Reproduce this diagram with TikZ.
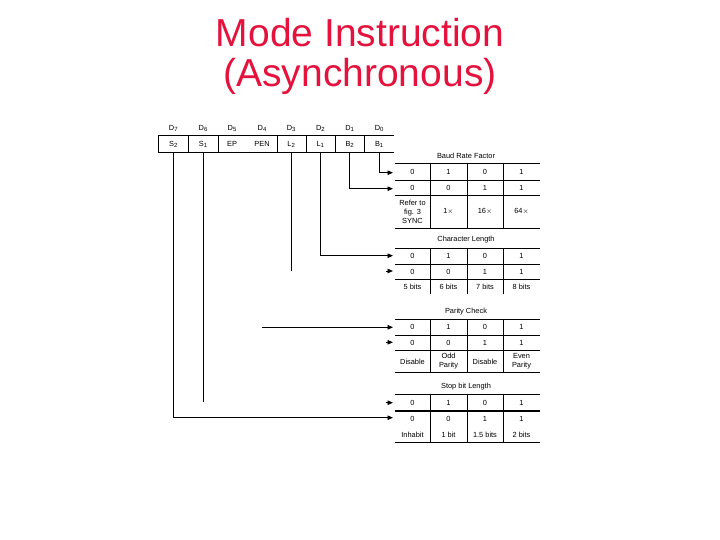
\documentclass[tikz,border=0pt]{standalone}
\usepackage{fontspec}
\setmainfont{Liberation Sans}
\usetikzlibrary{arrows.meta}
\definecolor{titlered}{RGB}{228,18,60}
\newcommand{\mysub}[1]{\raisebox{-0.25ex}{\fontsize{6bp}{6bp}\selectfont #1}}
\begin{document}
\begin{tikzpicture}[x=1bp,y=-1bp,
  ttl/.style={font=\fontsize{39bp}{40bp}\selectfont, text=titlered, inner sep=0pt, anchor=base},
  small/.style={font=\fontsize{7.4bp}{9bp}\selectfont, inner sep=0pt, align=center},
  regcell/.style={small, minimum height=16bp, inner sep=0pt},
  gridline/.style={line width=0.8bp},
  thickline/.style={line width=1.7bp},
  wire/.style={line width=0.9bp},
  conn/.style={line width=0.9bp, -{Triangle[length=5.5bp,width=4.5bp]}}]
\useasboundingbox (0,0) rectangle (720,540);

% Title
\node[ttl] (title1) at (360,47) {Mode Instruction};
\node[ttl] (title2) at (360,87) {(Asynchronous)};

% Register: bit labels
\foreach \n/\x/\s in {d7/173.3/7, d6/203/6, d5/232/5, d4/262/4, d3/291.2/3, d2/320.35/2, d1/349.65/1, d0/379.15/0}
  \node[small] (\n) at (\x,128) {D\mysub{\s}};

% Register cells
\node[regcell, minimum width=30bp]   (s2) at (173.3,144) {S\mysub{2}};
\node[regcell, minimum width=29.4bp] (s1) at (203,144) {S\mysub{1}};
\node[regcell, minimum width=59bp]   (eppen) at (247.2,144) {};
\node[small] (ep) at (232,144) {EP};
\node[small] (pen) at (262,144) {PEN};
\node[regcell, minimum width=29bp]   (l2) at (291.2,144) {L\mysub{2}};
\node[regcell, minimum width=29.3bp] (l1) at (320.35,144) {L\mysub{1}};
\node[regcell, minimum width=29.3bp] (b2) at (349.65,144) {B\mysub{2}};
\node[regcell, minimum width=29.7bp] (b1) at (379.15,144) {B\mysub{1}};
\draw[gridline] (b1.north east) -- (s2.north west) -- (s2.south west) -- (b1.south east);
\foreach \c in {s2,s1,eppen,l2,l1,b2}
  \draw[gridline] (\c.north east) -- (\c.south east);

% ---------- Tables ----------
% Baud Rate Factor
\node[small] (baudT) at (466,156) {Baud Rate Factor};
\foreach \y in {163,180,195,228} \draw[gridline] (395,\y) -- (540,\y);
\foreach \x in {430,467,503} \draw[gridline] (\x,163) -- (\x,228);
\foreach \t/\x [count=\i] in {0/412.5,1/448.5,0/485,1/521.5}
  \node[small] (baudA\i) at (\x,172) {\t};
\foreach \t/\x [count=\i] in {0/412.5,0/448.5,1/485,1/521.5}
  \node[small] (baudB\i) at (\x,187.5) {\t};
\node[small] (baudC1) at (412.5,211.5) {Refer to\\fig. 3\\SYNC};
\node[small] (baudC2) at (448.5,211.5) {1$\times$};
\node[small] (baudC3) at (485,211.5) {16$\times$};
\node[small] (baudC4) at (521.5,211.5) {64$\times$};

% Character Length
\node[small] (charT) at (466,240) {Character Length};
\foreach \y in {248,264,279} \draw[gridline] (395,\y) -- (540,\y);
\foreach \x in {430,467,503} \draw[gridline] (\x,248) -- (\x,294);
\foreach \t/\x [count=\i] in {0/412.5,1/448.5,0/485,1/521.5}
  \node[small] (charA\i) at (\x,256) {\t};
\foreach \t/\x [count=\i] in {0/412.5,0/448.5,1/485,1/521.5}
  \node[small] (charB\i) at (\x,271.5) {\t};
\foreach \t/\x [count=\i] in {5 bits/412.5,6 bits/448.5,7 bits/485,8 bits/521.5}
  \node[small] (charC\i) at (\x,287) {\t};

% Parity Check
\node[small] (parT) at (466,312) {Parity Check};
\foreach \y in {319,335,350,372} \draw[gridline] (395,\y) -- (540,\y);
\foreach \x in {430,467,503} \draw[gridline] (\x,319) -- (\x,372);
\foreach \t/\x [count=\i] in {0/412.5,1/448.5,0/485,1/521.5}
  \node[small] (parA\i) at (\x,327) {\t};
\foreach \t/\x [count=\i] in {0/412.5,0/448.5,1/485,1/521.5}
  \node[small] (parB\i) at (\x,342.5) {\t};
\node[small] (parC1) at (412.5,361.5) {Disable};
\node[small] (parC2) at (448.5,361.5) {Odd\\Parity};
\node[small] (parC3) at (485,361.5) {Disable};
\node[small] (parC4) at (521.5,361.5) {Even\\Parity};

% Stop bit Length
\node[small] (stopT) at (466,387) {Stop bit Length};
\foreach \y in {394,442} \draw[gridline] (395,\y) -- (540,\y);
\draw[thickline] (395,411) -- (540,411);
\foreach \x in {430,467,503} \draw[gridline] (\x,394) -- (\x,442);
\foreach \t/\x [count=\i] in {0/412.5,1/448.5,0/485,1/521.5}
  \node[small] (stopA\i) at (\x,403) {\t};
\foreach \t/\x [count=\i] in {0/412.5,0/448.5,1/485,1/521.5}
  \node[small] (stopB\i) at (\x,419) {\t};
\foreach \t/\x [count=\i] in {Inhabit/412.5,1 bit/448.5,1.5 bits/485,2 bits/521.5}
  \node[small] (stopC\i) at (\x,435) {\t};

% ---------- Connectors ----------
\coordinate (baudIn1) at (393,172.7);
\coordinate (baudIn2) at (393,188.7);
\coordinate (charIn1) at (393,255.7);
\coordinate (charIn2) at (393,271);
\coordinate (charStub) at (386,271);
\coordinate (l2End) at (291.2,270.7);
\coordinate (epStart) at (262,327.3);
\coordinate (parIn1) at (393,327.3);
\coordinate (parIn2) at (393,342.3);
\coordinate (parStub) at (386,342.3);
\coordinate (s1End) at (203,402.3);
\coordinate (stopIn1) at (393,402.7);
\coordinate (stopStub) at (386,402.7);
\coordinate (stopIn2) at (393,417.7);

\draw[conn] (b1.south) |- (baudIn1);
\draw[conn] (b2.south) |- (baudIn2);
\draw[conn] (l1.south) |- (charIn1);
\draw[wire] (l2.south) -- (l2End);
\draw[conn] (charStub) -- (charIn2);
\draw[conn] (epStart) -- (parIn1);
\draw[conn] (parStub) -- (parIn2);
\draw[wire] (s1.south) -- (s1End);
\draw[conn] (stopStub) -- (stopIn1);
\draw[conn] (s2.south) |- (stopIn2);
\end{tikzpicture}
\end{document}
